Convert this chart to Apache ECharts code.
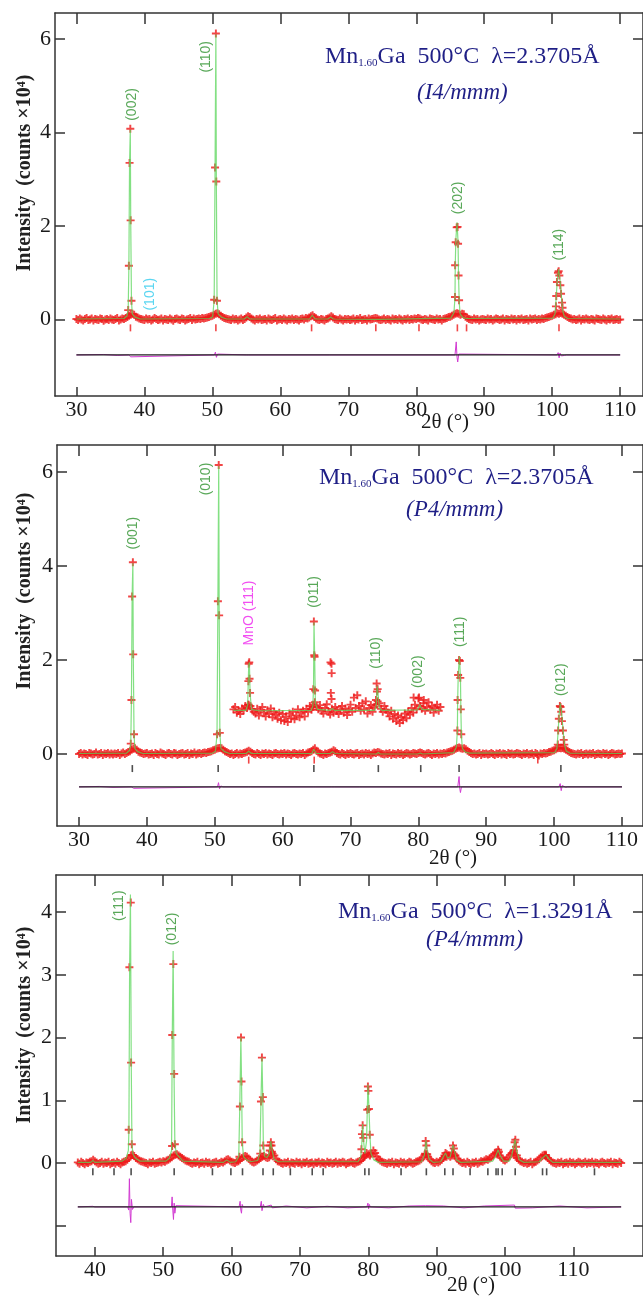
<!DOCTYPE html>
<html>
<head>
<meta charset="utf-8">
<script src="https://cdn.jsdelivr.net/npm/echarts@6.0.0/dist/echarts.min.js"></script>
<style>
  html, body { margin: 0; padding: 0; background: #fff; }
  #chart { width: 643px; height: 1297px; }
</style>
</head>
<body>
<div id="chart"></div>
<script>
// ---------- panel 1: I4/mmm, lambda = 2.3705 A (scan 30..110, step 0.25) ----------
const p1Start = 30;
const p1Step = 0.25;
const p1Bg = [
  0.01, -0.01, 0.02, 0.00, -0.02, 0.01, 0.03, -0.01, 0.00, 0.02, -0.02, 0.01, 0.00, -0.01, 0.02, 0.01, -0.03, 0.00, 0.01, -0.01, // 30
  0.02, 0.00, -0.01, 0.01, 0.03, -0.02, 0.00, 0.02, 0.01, 0.03, 0.05, 0.08, 0.10, 0.12, 0.10, 0.06, 0.04, 0.02, 0.01, 0.00, // 35
  -0.01, 0.02, 0.00, 0.01, -0.02, 0.00, 0.03, 0.01, -0.01, 0.00, 0.02, -0.02, 0.01, 0.00, -0.01, 0.02, 0.00, -0.03, 0.01, 0.02, // 40
  0.00, -0.01, 0.02, 0.01, -0.02, 0.00, 0.01, 0.03, -0.01, 0.02, 0.00, 0.01, 0.02, 0.01, 0.03, 0.02, 0.03, 0.04, 0.05, 0.07, // 45
  0.08, 0.10, 0.12, 0.13, 0.11, 0.08, 0.05, 0.03, 0.02, 0.01, 0.00, -0.01, 0.02, 0.00, 0.01, -0.02, 0.00, 0.02, -0.01, 0.01, // 50
  0.04, 0.07, 0.05, 0.02, 0.00, -0.02, 0.01, 0.00, 0.02, -0.01, 0.00, 0.01, -0.02, 0.02, 0.00, -0.01, 0.01, 0.03, -0.02, 0.00, // 55
  0.01, -0.01, 0.02, 0.00, -0.02, 0.01, 0.00, 0.02, -0.01, 0.01, 0.00, -0.02, 0.01, 0.02, 0.00, 0.03, 0.02, 0.04, 0.07, 0.09, // 60
  0.05, 0.02, 0.00, -0.01, 0.01, 0.00, -0.02, 0.01, 0.02, 0.04, 0.07, 0.04, 0.01, 0.00, -0.01, 0.02, 0.00, -0.02, 0.01, 0.00, // 65
  0.01, -0.01, 0.00, 0.02, -0.02, 0.01, 0.00, 0.03, -0.01, 0.00, 0.01, -0.02, 0.02, 0.00, 0.01, 0.02, 0.03, 0.02, 0.00, -0.01, // 70
  0.00, 0.02, -0.01, 0.01, 0.00, -0.02, 0.02, 0.00, 0.01, -0.01, 0.02, 0.00, -0.02, 0.01, 0.00, 0.02, -0.01, 0.01, 0.00, 0.02, // 75
  0.01, 0.03, 0.02, 0.00, -0.01, 0.01, 0.00, -0.02, 0.02, 0.01, 0.00, -0.01, 0.02, 0.00, 0.01, -0.02, 0.01, 0.02, 0.03, 0.05, // 80
  0.06, 0.08, 0.10, 0.12, 0.13, 0.12, 0.10, 0.12, 0.11, 0.06, 0.03, 0.01, 0.00, -0.01, 0.02, 0.00, 0.01, -0.02, 0.00, 0.01, // 85
  0.00, -0.01, 0.02, 0.00, 0.01, -0.02, 0.00, 0.02, 0.01, -0.01, 0.00, 0.02, -0.02, 0.01, 0.00, -0.01, 0.02, 0.00, 0.01, -0.02, // 90
  0.01, 0.00, 0.02, -0.01, 0.00, 0.01, -0.02, 0.02, 0.00, 0.01, 0.02, -0.01, 0.01, 0.00, 0.02, 0.01, 0.03, 0.04, 0.05, 0.07, // 95
  0.08, 0.10, 0.11, 0.13, 0.12, 0.14, 0.12, 0.10, 0.08, 0.05, 0.03, 0.02, 0.00, 0.01, -0.01, 0.00, 0.02, -0.02, 0.01, 0.00, // 100
  0.02, 0.00, -0.01, 0.01, 0.00, -0.02, 0.02, 0.01, 0.00, -0.01, 0.02, 0.00, -0.02, 0.01, 0.00, 0.02, -0.01, 0.00, 0.01, -0.01, // 105
  0.00 // 110
];
const p1Peaks = [
  [37.62, 0.2], [37.72, 1.15], [37.82, 3.35], [37.93, 4.08], [37.98, 2.12], [38.1, 0.4],
  [50.27, 0.42], [50.4, 3.25], [50.52, 6.12], [50.58, 2.95], [50.68, 0.4],
  [85.7, 0.48], [85.72, 1.16], [85.8, 1.65], [85.95, 1.97], [86.08, 1.98], [86.15, 1.62], [86.22, 0.94], [86.3, 0.41],
  [100.55, 0.28], [100.6, 0.5], [100.7, 0.8], [100.85, 1.0], [100.95, 1.03], [101.05, 0.94], [101.2, 0.73],
  [101.3, 0.55], [101.45, 0.36], [101.52, 0.25]
];
const p1Calc = [
  [30, 0.01], [37.0, 0.02], [37.45, 0.08], [37.62, 0.2], [37.72, 1.15], [37.82, 3.35], [37.93, 4.06], [37.99, 2.12],
  [38.1, 0.4], [38.22, 0.12], [38.6, 0.05], [39.4, 0.01],
  [49.6, 0.02], [50.05, 0.06], [50.27, 0.42], [50.4, 3.25], [50.52, 6.1], [50.59, 2.95], [50.69, 0.42], [50.85, 0.12],
  [51.3, 0.05], [52.1, 0.01],
  [54.7, 0.01], [55.1, 0.06], [55.5, 0.01], [64.3, 0.01], [64.7, 0.09], [65.1, 0.01],
  [67.0, 0.01], [67.4, 0.05], [67.8, 0.01], [73.8, 0.0], [74.05, 0.02], [74.3, 0.0],
  [85.1, 0.03], [85.55, 0.15], [85.7, 0.48], [85.74, 1.16], [85.82, 1.7], [86.0, 2.08], [86.15, 1.65], [86.22, 0.94],
  [86.32, 0.38], [86.45, 0.12], [86.65, 0.11], [86.9, 0.04], [87.4, 0.02],
  [100.1, 0.03], [100.42, 0.12], [100.58, 0.45], [100.75, 0.85], [100.95, 1.08], [101.1, 0.92], [101.25, 0.68],
  [101.4, 0.42], [101.55, 0.18], [101.8, 0.06], [102.3, 0.02], [110, 0.01]
];
const p1Diff = [
  [30, 0], [34, 0.01], [36, -0.01], [37.7, 0], [37.88, 0.04], [38.0, -0.04], [38.15, 0],
  [50.3, 0], [50.45, 0.06], [50.6, -0.05], [50.75, 0.02], [51, 0], [55, 0], [55.1, 0.03], [55.3, 0],
  [67.2, 0], [67.4, 0.02], [67.6, 0], [85.7, 0], [85.88, 0.28], [86.0, -0.05], [86.1, -0.15], [86.25, 0.02], [86.45, 0],
  [100.7, 0], [100.88, 0.05], [101.02, -0.06], [101.15, 0.04], [101.35, -0.02], [101.55, 0.02], [101.8, -0.01], [102.1, 0], [110, 0]
];
const p1Bragg = [37.95, 50.52, 64.6, 74.05, 80.4, 86.05, 87.4, 101.0];
const p1Hkl = [["(002)", 38.2, 4.6], ["(110)", 49.1, 5.62], ["(202)", 86.1, 2.6], ["(114)", 101.0, 1.6]];
const p1Weak = [["(101)", 40.9, 0.54]];

// ---------- panel 2: P4/mmm, lambda = 2.3705 A (scan 30..110, step 0.25) ----------
const p2Start = 30;
const p2Step = 0.25;
const p2Bg = [
  0.00, 0.02, -0.01, 0.01, 0.00, -0.02, 0.02, 0.01, -0.01, 0.00, 0.03, -0.01, 0.00, 0.02, -0.02, 0.01, 0.00, 0.02, -0.01, 0.01, // 30
  -0.01, 0.01, 0.00, 0.02, -0.02, 0.01, 0.03, 0.00, 0.02, 0.04, 0.06, 0.09, 0.11, 0.12, 0.09, 0.05, 0.03, 0.02, 0.00, 0.01, // 35
  0.02, -0.01, 0.00, 0.01, -0.02, 0.02, 0.00, -0.01, 0.03, 0.01, 0.00, -0.02, 0.01, 0.02, 0.00, -0.01, 0.02, 0.01, -0.02, 0.00, // 40
  0.01, 0.02, -0.01, 0.00, 0.02, -0.02, 0.01, 0.00, 0.03, -0.01, 0.01, 0.02, 0.00, 0.02, 0.03, 0.02, 0.04, 0.05, 0.06, 0.08, // 45
  0.09, 0.11, 0.12, 0.13, 0.12, 0.09, 0.06, 0.04, 0.02, 0.00, 0.01, -0.02, 0.00, 0.02, -0.01, 0.01, 0.00, 0.02, 0.03, 0.05, // 50
  0.07, 0.05, 0.02, 0.00, -0.01, 0.02, 0.00, -0.02, 0.01, 0.00, 0.02, -0.01, 0.01, 0.00, -0.02, 0.01, 0.02, 0.00, -0.01, 0.01, // 55
  0.00, 0.02, -0.01, 0.01, 0.00, -0.02, 0.01, 0.02, 0.00, -0.01, 0.01, 0.00, 0.02, -0.02, 0.01, 0.03, 0.04, 0.06, 0.09, 0.12, // 60
  0.07, 0.03, 0.01, 0.00, -0.02, 0.01, 0.00, 0.02, 0.03, 0.05, 0.08, 0.06, 0.02, 0.00, -0.01, 0.02, 0.00, -0.02, 0.01, 0.00, // 65
  0.02, 0.00, -0.01, 0.01, 0.02, -0.02, 0.00, 0.01, -0.01, 0.02, 0.00, 0.01, -0.02, 0.01, 0.03, 0.02, 0.04, 0.03, 0.01, 0.00, // 70
  -0.01, 0.01, 0.00, 0.02, -0.02, 0.01, 0.00, -0.01, 0.02, 0.00, 0.01, -0.02, 0.00, 0.02, 0.01, -0.01, 0.00, 0.02, 0.01, 0.00, // 75
  0.02, 0.03, 0.02, 0.00, -0.01, 0.01, 0.02, 0.00, -0.02, 0.01, 0.00, 0.02, -0.01, 0.01, 0.00, 0.02, 0.01, 0.03, 0.04, 0.06, // 80
  0.07, 0.09, 0.11, 0.13, 0.14, 0.12, 0.11, 0.12, 0.10, 0.07, 0.04, 0.02, 0.00, 0.01, -0.01, 0.00, 0.02, -0.02, 0.01, 0.00, // 85
  0.01, -0.01, 0.00, 0.02, 0.00, -0.02, 0.01, 0.00, 0.02, -0.01, 0.01, 0.00, -0.02, 0.02, 0.00, 0.01, -0.01, 0.00, 0.02, 0.01, // 90
  0.00, -0.02, 0.01, 0.00, 0.02, -0.01, 0.00, 0.01, -0.02, 0.02, 0.00, -0.03, 0.01, 0.00, 0.02, 0.01, 0.02, 0.04, 0.05, 0.07, // 95
  0.08, 0.10, 0.12, 0.13, 0.12, 0.13, 0.11, 0.09, 0.07, 0.04, 0.02, 0.01, 0.00, -0.01, 0.01, 0.00, 0.02, -0.02, 0.00, 0.01, // 100
  -0.01, 0.01, 0.00, 0.02, -0.02, 0.00, 0.01, 0.00, -0.01, 0.02, 0.00, 0.01, -0.02, 0.00, 0.02, 0.01, -0.01, 0.00, 0.01, 0.00, // 105
  0.01 // 110
];
const p2Peaks = [
  [37.62, 0.22], [37.72, 1.15], [37.82, 3.35], [37.93, 4.08], [37.98, 2.12], [38.1, 0.42],
  [50.33, 0.42], [50.46, 3.25], [50.58, 6.15], [50.64, 2.95], [50.74, 0.45],
  [85.75, 0.5], [85.78, 1.15], [85.86, 1.68], [86.0, 2.0], [86.1, 1.98], [86.18, 1.62], [86.25, 0.95], [86.32, 0.42],
  [100.55, 0.2], [100.6, 0.5], [100.7, 0.75], [100.85, 1.02], [100.95, 1.0], [101.05, 0.9], [101.15, 0.7],
  [101.3, 0.5], [101.42, 0.3], [101.5, 0.2]
];
const p2Calc = [
  [30, 0.01], [37.0, 0.02], [37.45, 0.08], [37.62, 0.22], [37.72, 1.15], [37.82, 3.35], [37.93, 4.06], [37.99, 2.12],
  [38.1, 0.42], [38.22, 0.12], [38.6, 0.05], [39.4, 0.01],
  [49.7, 0.02], [50.1, 0.06], [50.33, 0.42], [50.46, 3.25], [50.58, 6.12], [50.65, 2.95], [50.75, 0.45], [50.9, 0.12],
  [51.4, 0.05], [52.2, 0.01],
  [54.6, 0.01], [55.0, 0.06], [55.4, 0.01], [64.3, 0.01], [64.6, 0.1], [64.95, 0.01],
  [67.0, 0.01], [67.35, 0.05], [67.7, 0.01], [73.8, 0.0], [74.1, 0.03], [74.4, 0.0], [79.9, 0.0], [80.3, 0.02], [80.6, 0.0],
  [85.2, 0.03], [85.6, 0.15], [85.75, 0.5], [85.79, 1.15], [85.88, 1.7], [86.05, 2.08], [86.2, 1.62], [86.26, 0.95],
  [86.34, 0.4], [86.48, 0.12], [86.7, 0.11], [86.95, 0.04], [87.5, 0.02],
  [100.1, 0.03], [100.42, 0.12], [100.58, 0.45], [100.75, 0.85], [100.92, 1.08], [101.08, 0.92], [101.22, 0.68],
  [101.38, 0.42], [101.55, 0.18], [101.8, 0.06], [102.3, 0.02], [110, 0.01]
];
const p2Diff = [
  [30, 0], [33, 0.01], [35, -0.01], [37.7, 0], [37.9, 0.04], [38.05, -0.03], [38.2, 0],
  [50.4, 0], [50.55, 0.09], [50.7, -0.04], [50.9, 0.02], [51.2, 0], [55, 0], [55.1, 0.02], [55.3, 0], [64.6, 0], [64.75, 0.02], [64.9, 0],
  [67.2, 0], [67.4, 0.04], [67.6, 0], [71.3, 0], [71.5, 0.02], [71.7, 0],
  [85.8, 0], [86.0, 0.22], [86.12, -0.05], [86.2, -0.12], [86.35, 0],
  [100.7, 0], [100.9, 0.07], [101.05, -0.08], [101.2, 0.03], [101.4, 0.02], [101.7, -0.01], [102, 0], [110, 0]
];
const p2Bragg = [37.85, 50.5, 64.6, 74.1, 80.35, 86.0, 101.0];
const p2BraggMnO = [55.0, 64.65, 97.6];
const p2Hkl = [
  ["(001)", 37.95, 4.7], ["(010)", 48.8, 5.85], ["(011)", 64.7, 3.45], ["(110)", 73.8, 2.15],
  ["(002)", 79.9, 1.75], ["(111)", 86.1, 2.6], ["(012)", 101.1, 1.58]
];
const p2MnO = [["MnO (111)", 55.1, 3.0]];
// magnified part of the pattern (drawn shifted up)
const p2InsetStart = 52.75;
const p2InsetStep = 0.25;
const p2InsetBg = [
  0.95, 1.00, 0.88, 0.92, 0.85, 0.97, 0.93, 1.02, // 52.75
  0.98, 1.05, 1.02, 0.95, // 54.75
  0.90, 0.86, 0.96, 0.82, 0.92, 1.00, 0.88, 0.80, // 55.75
  0.93, 0.85, 0.97, 0.78, 0.90, 0.84, 0.75, 0.88, // 57.75
  0.72, 0.85, 0.70, 0.80, 0.68, 0.86, 0.76, 0.90, // 59.75
  0.74, 0.82, 0.95, 0.78, 0.88, 0.92, 0.80, 0.96, // 61.75
  0.90, 1.02, 0.94, 1.05, 1.10, 1.00, 0.95, 1.04, // 63.75
  0.92, 0.86, 0.98, 1.06, 0.90, 0.84, 0.96, 0.88, // 65.75
  1.00, 0.92, 0.85, 0.95, 1.02, 0.88, 0.97, 0.83, // 67.75
  0.94, 1.05, 0.90, 1.20, 0.98, 1.25, 1.02, 0.92, // 69.75
  1.08, 0.95, 1.12, 0.86, 0.98, 1.04, 0.90, 1.00, // 71.75
  1.05, 1.12, 1.08, 0.96, 0.90, 1.02, 0.94, 0.88, // 73.75
  0.80, 0.92, 0.75, 0.85, 0.70, 0.82, 0.66, 0.78, // 75.75
  0.72, 0.86, 0.76, 0.90, 0.84, 0.98, 0.88, 1.05, // 77.75
  0.95, 1.18, 1.02, 0.96, 1.08, 0.92, 1.00, 1.10, // 79.75
  0.94, 1.02, 0.88, 0.98, 1.05, 0.92, 1.00 // 81.75
];
const p2InsetPeaks = [
  [54.9, 1.05], [54.95, 1.55], [55.0, 1.92], [55.08, 1.95], [55.12, 1.6], [55.2, 1.3],
  [64.45, 1.0], [64.52, 1.38], [64.6, 2.82], [64.66, 2.1], [64.7, 2.07], [64.78, 1.35],
  [67.05, 1.95], [67.2, 1.92], [67.22, 1.72], [67.1, 1.3], [67.2, 1.17],
  [73.75, 1.15], [73.85, 1.5], [73.9, 1.33], [74.0, 1.38], [79.3, 1.2], [80.1, 1.2], [80.8, 1.15]
];
const p2InsetCalc = [
  [52.75, 0.93], [54.6, 0.93], [54.85, 1.05], [55.0, 1.9], [55.1, 1.95], [55.2, 1.3], [55.4, 0.95], [56.5, 0.92],
  [64.2, 0.93], [64.45, 1.02], [64.55, 1.4], [64.62, 2.8], [64.72, 2.05], [64.82, 1.1], [65.1, 0.95],
  [67.0, 0.93], [67.3, 0.97], [67.6, 0.93], [73.6, 0.93], [73.8, 1.05], [73.92, 1.45], [74.05, 1.3], [74.25, 0.98],
  [74.6, 0.93], [79.9, 0.94], [80.2, 1.05], [80.5, 0.95], [83.25, 0.93]
];

// ---------- panel 3: P4/mmm, lambda = 1.3291 A (scan 37.5..117, step 0.25) ----------
const p3Start = 37.5;
const p3Step = 0.25;
const p3Bg = [
  0.01, -0.01, 0.02, 0.00, -0.02, 0.01, 0.00, 0.02, 0.03, 0.05, 0.03, 0.01, -0.01, 0.00, 0.02, -0.01, 0.01, 0.00, 0.02, -0.02, // 37.5
  0.00, 0.01, -0.01, 0.02, 0.00, -0.02, 0.01, 0.02, 0.03, 0.05, 0.08, 0.12, 0.13, 0.11, 0.08, 0.06, 0.04, 0.03, 0.02, 0.01, // 42.5
  0.00, -0.02, 0.01, 0.00, 0.02, -0.01, 0.00, 0.01, 0.02, 0.01, 0.03, 0.02, 0.04, 0.05, 0.07, 0.09, 0.12, 0.13, 0.14, 0.12, // 47.5
  0.10, 0.08, 0.06, 0.04, 0.03, 0.02, 0.00, -0.01, 0.01, 0.00, 0.02, -0.02, 0.00, 0.01, -0.01, 0.02, 0.00, 0.01, -0.02, 0.00, // 52.5
  0.01, 0.02, -0.01, 0.00, 0.02, 0.01, 0.03, 0.05, 0.06, 0.04, 0.02, 0.01, 0.00, 0.02, 0.03, 0.05, 0.08, 0.10, 0.11, 0.10, // 57.5
  0.07, 0.04, 0.02, 0.01, 0.02, 0.04, 0.06, 0.08, 0.10, 0.11, 0.09, 0.08, 0.09, 0.12, 0.15, 0.12, 0.06, 0.03, 0.02, 0.00, // 62.5
  -0.01, 0.01, 0.00, 0.02, -0.02, 0.01, 0.00, -0.01, 0.02, 0.00, 0.01, -0.02, 0.01, 0.00, 0.02, -0.01, 0.00, 0.01, -0.02, 0.01, // 67.5
  0.00, 0.02, -0.01, 0.01, 0.00, -0.02, 0.02, 0.00, 0.01, -0.01, 0.00, 0.02, -0.01, 0.01, 0.00, 0.02, 0.01, -0.02, 0.00, 0.01, // 72.5
  0.02, 0.00, -0.01, 0.01, 0.02, 0.03, 0.05, 0.08, 0.12, 0.16, 0.14, 0.12, 0.15, 0.20, 0.16, 0.10, 0.06, 0.04, 0.02, 0.01, // 77.5
  0.00, -0.01, 0.01, 0.00, 0.02, -0.02, 0.01, 0.00, -0.01, 0.02, 0.00, 0.01, -0.02, 0.00, 0.02, 0.01, -0.01, 0.00, 0.02, 0.03, // 82.5
  0.04, 0.06, 0.09, 0.13, 0.14, 0.10, 0.06, 0.03, 0.01, 0.00, 0.02, 0.01, 0.03, 0.05, 0.08, 0.11, 0.14, 0.12, 0.10, 0.12, // 87.5
  0.15, 0.12, 0.07, 0.04, 0.02, 0.00, 0.01, -0.01, 0.02, 0.00, -0.02, 0.01, 0.00, 0.02, -0.01, 0.01, 0.03, 0.02, 0.04, 0.06, // 92.5
  0.05, 0.07, 0.09, 0.12, 0.15, 0.17, 0.16, 0.12, 0.08, 0.05, 0.04, 0.06, 0.09, 0.13, 0.16, 0.15, 0.13, 0.08, 0.05, 0.03, // 97.5
  0.02, 0.00, 0.01, -0.01, 0.00, 0.02, -0.02, 0.01, 0.02, 0.04, 0.06, 0.09, 0.12, 0.13, 0.11, 0.08, 0.05, 0.03, 0.01, 0.00, // 102.5
  -0.01, 0.01, 0.00, 0.02, -0.02, 0.00, 0.01, -0.01, 0.02, 0.00, 0.01, -0.02, 0.00, 0.02, 0.01, -0.01, 0.00, 0.02, -0.01, 0.01, // 107.5
  0.00, 0.02, -0.01, 0.01, 0.00, -0.02, 0.01, 0.02, 0.00, -0.01, 0.01, 0.00, 0.02, -0.02, 0.01, 0.00, -0.01, 0.02, 0.00 // 112.5
];
const p3Peaks = [
  [44.95, 0.53], [45.05, 3.12], [45.25, 4.15], [45.3, 1.6], [45.4, 0.3], [45.5, 0.13],
  [51.3, 0.27], [51.32, 2.04], [51.48, 3.17], [51.6, 1.42], [51.7, 0.3],
  [61.15, 0.1], [61.22, 0.9], [61.38, 2.0], [61.45, 1.3], [61.55, 0.33],
  [64.2, 0.15], [64.3, 0.98], [64.44, 1.68], [64.58, 1.05], [64.64, 0.28],
  [65.6, 0.2], [65.68, 0.28], [65.75, 0.33], [65.85, 0.28], [65.9, 0.18],
  [79.0, 0.22], [79.08, 0.46], [79.18, 0.6], [79.28, 0.4], [79.4, 0.1],
  [79.85, 0.85], [79.95, 1.22], [80.02, 1.15], [80.1, 0.86], [80.22, 0.45], [80.35, 0.15],
  [88.3, 0.15], [88.4, 0.35], [88.5, 0.28], [88.62, 0.14],
  [91.15, 0.12], [91.3, 0.16], [91.45, 0.1],
  [92.25, 0.17], [92.4, 0.28], [92.52, 0.23], [92.65, 0.12],
  [98.85, 0.14], [99.0, 0.21], [99.12, 0.18],
  [101.3, 0.2], [101.42, 0.33], [101.52, 0.37], [101.62, 0.26], [101.75, 0.12],
  [105.85, 0.12], [106.0, 0.13]
];
const p3Calc = [
  [37.5, 0.01], [39.4, 0.01], [39.7, 0.04], [40.0, 0.01], [44.0, 0.03], [44.6, 0.08], [44.9, 0.2], [44.98, 0.53],
  [45.08, 3.1], [45.2, 4.28], [45.32, 1.6], [45.42, 0.32], [45.55, 0.15], [45.9, 0.08], [46.6, 0.03],
  [50.4, 0.03], [50.9, 0.08], [51.22, 0.2], [51.32, 2.0], [51.45, 3.38], [51.58, 1.42], [51.7, 0.32], [51.9, 0.15],
  [52.3, 0.1], [52.9, 0.03], [58.8, 0.01], [59.3, 0.05], [59.8, 0.01],
  [60.6, 0.02], [61.05, 0.1], [61.2, 0.9], [61.36, 2.0], [61.46, 1.3], [61.56, 0.33], [61.75, 0.1], [62.2, 0.05],
  [62.8, 0.02], [63.8, 0.04], [64.15, 0.15], [64.3, 0.98], [64.45, 1.68], [64.56, 1.05], [64.65, 0.28], [64.85, 0.1],
  [65.2, 0.09], [65.5, 0.15], [65.75, 0.35], [65.9, 0.22], [66.2, 0.06], [66.8, 0.02],
  [78.5, 0.02], [78.9, 0.1], [79.05, 0.3], [79.18, 0.62], [79.32, 0.35], [79.5, 0.15], [79.75, 0.35], [79.95, 1.25],
  [80.1, 0.88], [80.25, 0.42], [80.4, 0.15], [80.8, 0.05], [81.5, 0.01],
  [87.8, 0.02], [88.2, 0.12], [88.45, 0.36], [88.6, 0.22], [88.9, 0.06], [89.5, 0.01],
  [90.6, 0.02], [91.0, 0.1], [91.3, 0.16], [91.6, 0.08], [92.0, 0.1], [92.4, 0.29], [92.6, 0.2], [92.9, 0.05], [93.5, 0.01],
  [98.2, 0.03], [98.6, 0.1], [99.0, 0.21], [99.3, 0.12], [99.8, 0.03], [100.6, 0.03], [101.0, 0.12], [101.5, 0.38],
  [101.7, 0.2], [102.1, 0.05], [102.8, 0.01], [105.0, 0.02], [105.5, 0.08], [106.0, 0.13], [106.4, 0.07], [107.0, 0.01],
  [117, 0.01]
];
const p3Diff = [
  [37.5, 0], [39.7, 0.01], [40, 0], [44.8, 0], [44.95, -0.05], [45.05, 0.45], [45.15, -0.1], [45.25, -0.25],
  [45.35, 0.12], [45.5, -0.04], [45.7, 0], [51.2, 0], [51.3, 0.16], [51.4, -0.05], [51.5, -0.2], [51.6, 0.06],
  [51.7, -0.1], [51.85, 0.02], [52.1, 0], [61.1, 0], [61.25, 0.09], [61.35, -0.05], [61.45, -0.1], [61.55, 0.04],
  [61.7, 0], [64.2, 0], [64.35, 0.09], [64.45, -0.06], [64.55, -0.08], [64.65, 0.04], [64.8, 0], [65.8, 0.03],
  [65.95, -0.015], [68, 0.015], [71, -0.015], [74, 0.01], [77, -0.015], [79.8, 0], [79.95, 0.06], [80.05, -0.03],
  [80.15, 0.04], [80.3, 0], [83, -0.015], [86, 0.015], [88.4, 0.02], [88.6, -0.01], [91, 0.015], [94, -0.015],
  [97, 0.015], [101.4, 0.03], [101.5, -0.02], [104, -0.015], [108, 0.015], [112, -0.015], [117, 0]
];
const p3Bragg = [
  39.7, 42.8, 45.3, 51.6, 57.2, 59.9, 61.6, 64.6, 66.1, 68.6, 71.8, 73.4, 79.5, 80.1, 84.8, 88.5,
  91.2, 92.4, 94.9, 97.5, 98.7, 99.0, 99.6, 101.5, 105.5, 106.1, 113.1
];
const p3Hkl = [["(111)", 43.6, 4.1], ["(012)", 51.3, 3.73]];

// ---------- axes ----------
const xTicks12 = [30, 40, 50, 60, 70, 80, 90, 100, 110];
const yTicks12 = [0, 2, 4, 6];
const xTicks3 = [40, 50, 60, 70, 80, 90, 100, 110];
const yTicks3 = [-1, 0, 1, 2, 3, 4];
const yLabels3 = [0, 1, 2, 3, 4];

const chart = echarts.init(document.getElementById("chart"));

const SERIF = "'Liberation Serif', 'Times New Roman', serif";
const SANS = "'Liberation Sans', Arial, sans-serif";
const CROSS = "path://M3.8,0H6.2V3.8H10V6.2H6.2V10H3.8V6.2H0V3.8H3.8Z";
const RED = "#ee1818";
const GREEN = "#5ad65a";
const HKL = "#2f922f";
const NAVY = "#1f1f86";
const AXIS = "#333";

function scan(start, step, values) {
  return values.map((y, i) => [Math.round((start + i * step) * 100) / 100, y]);
}

function shift(points, dy) {
  return points.map((p) => [p[0], p[1] + dy]);
}

const grids = [
  { left: 55, top: 13, width: 590, height: 383 },
  { left: 57, top: 445, width: 588, height: 381 },
  { left: 56, top: 875, width: 589, height: 381 },
];
const xRange = [[26.85, 113.36], [26.75, 113.1], [34.31, 120.2]];
const yRange = [[-1.638, 6.557], [-1.532, 6.574], [-1.482, 4.59]];

const frameLine = { show: true, onZero: false, lineStyle: { color: AXIS, width: 1.5 } };
const tickStyle = { color: AXIS, width: 1.5 };
const labelStyle = { fontFamily: SERIF, fontSize: 22, color: "#1a1a1a" };

const xAxes = [];
const yAxes = [];
[0, 1, 2].forEach((i) => {
  const xt = i < 2 ? xTicks12 : xTicks3;
  const yt = i < 2 ? yTicks12 : yTicks3;
  const yl = i < 2 ? yTicks12 : yLabels3;
  const base = { type: "value", gridIndex: i, splitLine: { show: false } };
  xAxes.push(
    { ...base, min: xRange[i][0], max: xRange[i][1], axisLine: frameLine,
      axisTick: { inside: true, length: 9, customValues: xt, lineStyle: tickStyle },
      axisLabel: { ...labelStyle, margin: 3, customValues: xt } },
    { ...base, position: "top", min: xRange[i][0], max: xRange[i][1], axisLine: frameLine,
      axisTick: { inside: true, length: 11, customValues: xt, lineStyle: tickStyle },
      axisLabel: { show: false } }
  );
  yAxes.push(
    { ...base, min: yRange[i][0], max: yRange[i][1], axisLine: frameLine,
      axisTick: { inside: true, length: 10, customValues: yt, lineStyle: tickStyle },
      axisLabel: { ...labelStyle, margin: 4, customValues: yl } },
    { ...base, position: "right", min: yRange[i][0], max: yRange[i][1], axisLine: frameLine,
      axisTick: { inside: true, length: 10, customValues: yt, lineStyle: tickStyle },
      axisLabel: { show: false } }
  );
});

// ---------- series ----------
const panels = [
  { obs: scan(p1Start, p1Step, p1Bg).concat(p1Peaks), calc: p1Calc, diff: p1Diff, diffY: -0.76,
    span: [30, 110], bragg: [[p1Bragg, -0.18, RED]], labels: [[p1Hkl, HKL], [p1Weak, "#33ccee"]] },
  { obs: scan(p2Start, p2Step, p2Bg).concat(p2Peaks), calc: p2Calc, diff: p2Diff, diffY: -0.7,
    span: [30, 110], bragg: [[p2Bragg, -0.31, "#222"], [p2BraggMnO, -0.13, RED]],
    labels: [[p2Hkl, HKL], [p2MnO, "#ee22ee"]] },
  { obs: scan(p3Start, p3Step, p3Bg).concat(p3Peaks), calc: p3Calc, diff: p3Diff, diffY: -0.7,
    span: [37.5, 117], bragg: [[p3Bragg, -0.14, "#222"]], labels: [[p3Hkl, HKL]] },
];

const series = [];
panels.forEach((p, i) => {
  const ax = { xAxisIndex: 2 * i, yAxisIndex: 2 * i, silent: true };
  series.push({ ...ax, type: "scatter", data: p.obs, symbol: CROSS, symbolSize: 8,
    itemStyle: { color: RED }, z: 2 });
  series.push({ ...ax, type: "line", data: p.calc, showSymbol: false,
    lineStyle: { color: GREEN, width: 1.2, opacity: 0.75 }, z: 3 });
  series.push({ ...ax, type: "line", data: shift(p.diff, p.diffY), showSymbol: false,
    lineStyle: { color: "#d23ad2", width: 1 }, z: 3 });
  series.push({ ...ax, type: "line", data: [[p.span[0], p.diffY], [p.span[1], p.diffY]], showSymbol: false,
    lineStyle: { color: "#222", width: 1.3 }, z: 4 });
  p.bragg.forEach(([xs, level, color]) => {
    series.push({ ...ax, type: "scatter", data: xs.map((x) => [x, level]), symbol: "rect",
      symbolSize: [1.6, 7], itemStyle: { color }, z: 4 });
  });
  p.labels.forEach(([list, color]) => {
    series.push({ ...ax, type: "scatter", data: list.map(([t, x, y]) => ({ name: t, value: [x, y] })),
      symbolSize: 1, itemStyle: { color: "rgba(0,0,0,0)" }, z: 6,
      label: { show: true, position: "inside", rotate: 90, formatter: "{b}", color,
        fontFamily: SANS, fontSize: 14 } });
  });
});

// inset of panel 2
series.push({ xAxisIndex: 2, yAxisIndex: 2, silent: true, type: "scatter",
  data: scan(p2InsetStart, p2InsetStep, p2InsetBg).concat(p2InsetPeaks),
  symbol: CROSS, symbolSize: 8, itemStyle: { color: RED }, z: 2 });
series.push({ xAxisIndex: 2, yAxisIndex: 2, silent: true, type: "line", data: p2InsetCalc,
  showSymbol: false, lineStyle: { color: GREEN, width: 1.2, opacity: 0.75 }, z: 3 });

// ---------- texts ----------
const titleRich = {
  a: { fontFamily: SERIF, fontSize: 24, fontWeight: "normal", color: NAVY, lineHeight: 27, verticalAlign: "bottom" },
  s: { fontFamily: SERIF, fontSize: 11, fontWeight: "normal", color: NAVY, lineHeight: 8, verticalAlign: "bottom" },
};
const subStyle = { fontFamily: SERIF, fontSize: 23, fontStyle: "italic", fontWeight: "normal", color: NAVY };
const titles = [
  { text: "{a|Mn}{s|1.60}{a|Ga  500°C  λ=2.3705Å}", left: 325, top: 42, textStyle: { rich: titleRich } },
  { text: "(I4/mmm)", left: 417, top: 81, textStyle: subStyle },
  { text: "{a|Mn}{s|1.60}{a|Ga  500°C  λ=2.3705Å}", left: 319, top: 463, textStyle: { rich: titleRich } },
  { text: "(P4/mmm)", left: 406, top: 498, textStyle: subStyle },
  { text: "{a|Mn}{s|1.60}{a|Ga  500°C  λ=1.3291Å}", left: 338, top: 897, textStyle: { rich: titleRich } },
  { text: "(P4/mmm)", left: 426, top: 928, textStyle: subStyle },
];

function yName(y) {
  return { type: "text", x: 25, y, rotation: Math.PI / 2,
    style: { text: "Intensity  (counts ×10⁴)", font: "bold 20px " + SERIF, fill: "#222",
      textAlign: "center", textVerticalAlign: "middle" } };
}
function xName(x, y) {
  return { type: "text", x, y,
    style: { text: "2θ (°)", font: "21px " + SERIF, fill: "#1a1a1a", textAlign: "center", textVerticalAlign: "middle" } };
}

chart.setOption({
  animation: false,
  backgroundColor: "#fff",
  title: titles.map((t) => ({ ...t, padding: 0 })),
  grid: grids,
  xAxis: xAxes,
  yAxis: yAxes,
  series,
  graphic: [yName(173), yName(591), yName(1025), xName(445, 422), xName(453, 858), xName(471, 1285)],
});

window.addEventListener("resize", () => chart.resize());
</script>
</body>
</html>
